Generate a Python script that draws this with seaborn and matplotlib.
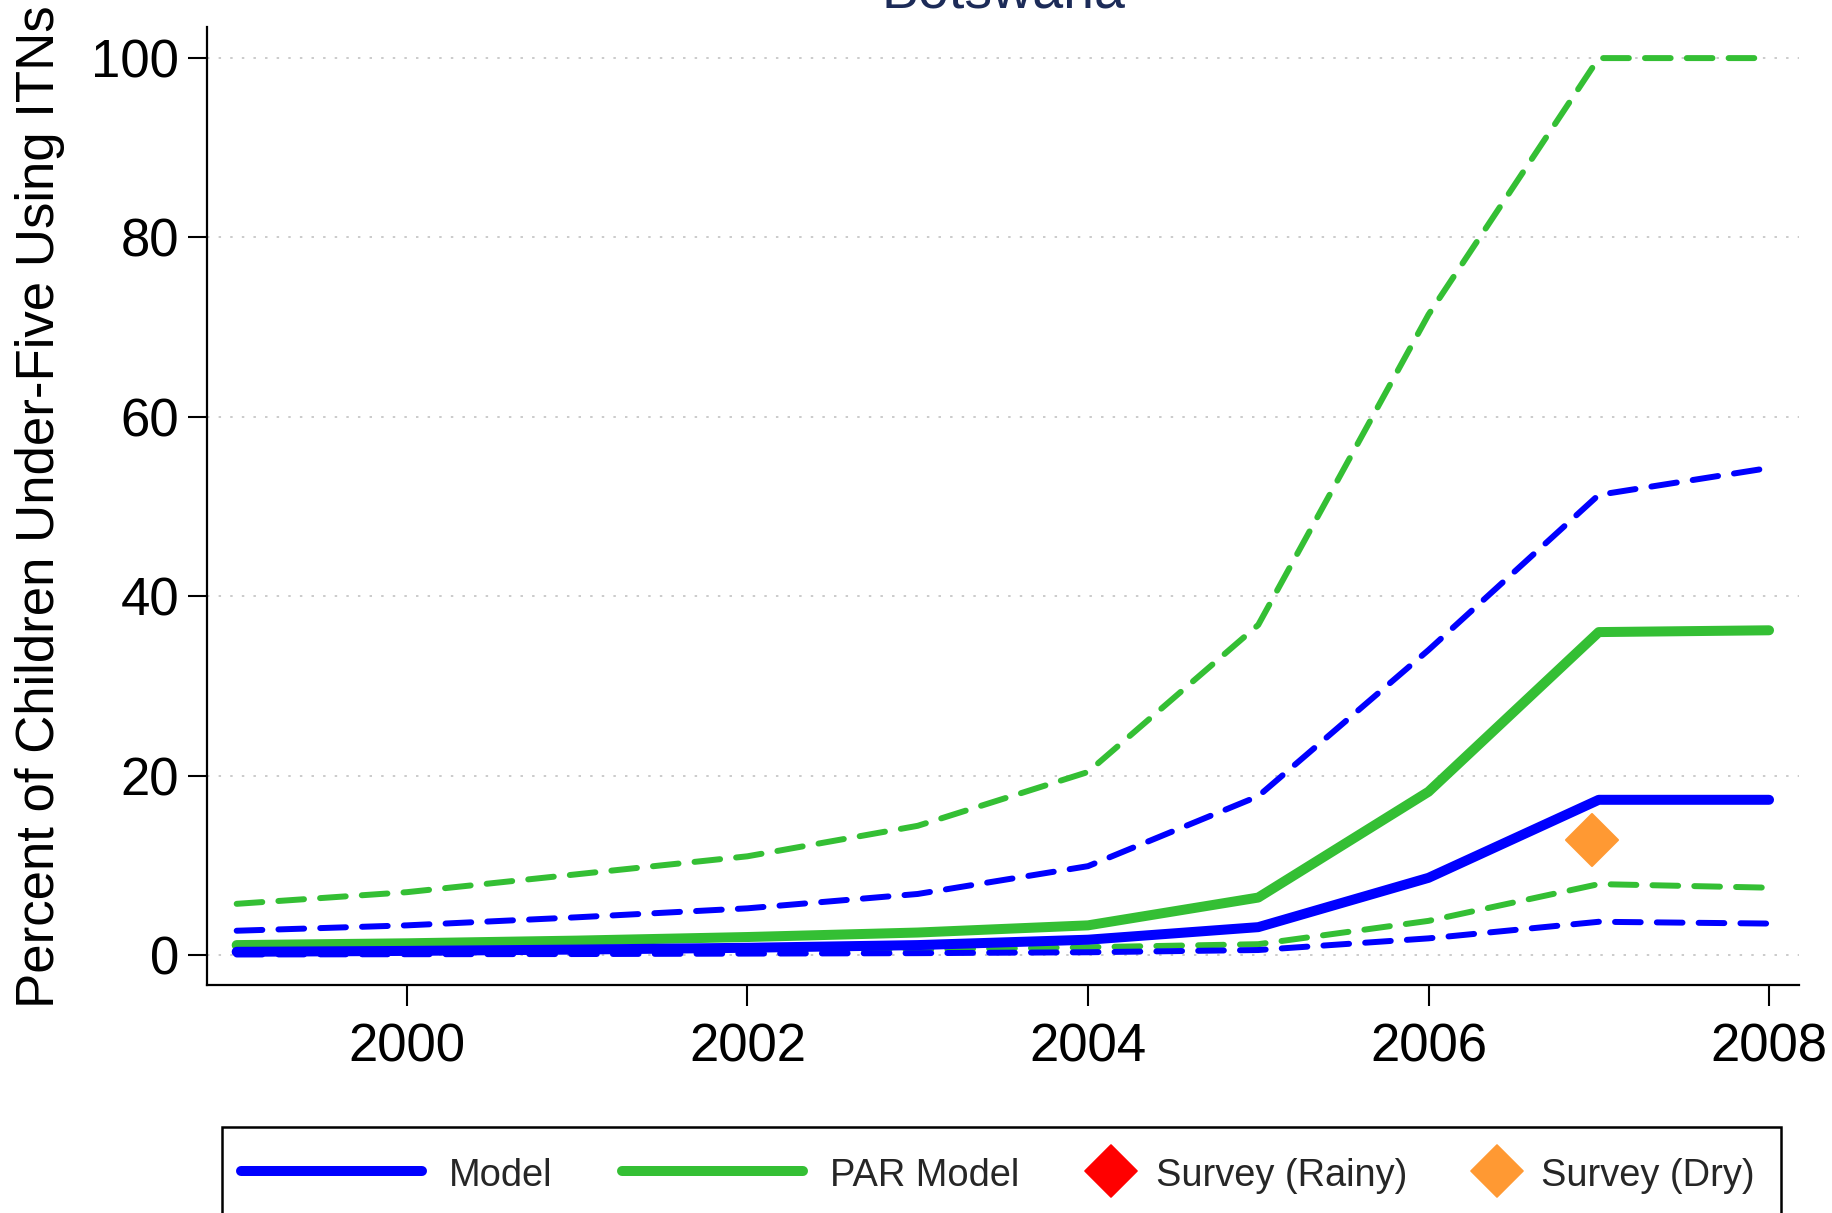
import numpy as np
import pandas as pd
import matplotlib
matplotlib.use("Agg")
import matplotlib.pyplot as plt
import seaborn as sns
from matplotlib.lines import Line2D
from matplotlib.patches import Rectangle
from matplotlib.markers import MarkerStyle

# ---------------- data ----------------
years = [1999, 2000, 2001, 2002, 2003, 2004, 2005, 2006, 2007, 2008]
model = [0.35, 0.45, 0.6, 0.8, 1.1, 1.7, 3.1, 8.6, 17.3, 17.3]
model_lo = [0.05, 0.08, 0.1, 0.15, 0.2, 0.3, 0.55, 1.85, 3.7, 3.5]
model_hi = [2.7, 3.3, 4.2, 5.2, 6.8, 9.9, 17.7, 34.0, 51.3, 54.3]
par_model = [1.1, 1.3, 1.6, 2.0, 2.5, 3.3, 6.4, 18.2, 36.0, 36.2]
par_lo = [0.3, 0.35, 0.4, 0.5, 0.6, 0.86, 1.2, 3.8, 7.9, 7.5]
par_hi = [5.7, 7.0, 9.0, 11.0, 14.4, 20.4, 36.8, 71.4, 100.0, 100.0]
survey_rainy_x = []
survey_rainy_y = []
survey_dry_x = [2006.96]
survey_dry_y = [12.8]

title = "Botswana"
ylabel = "Percent of Children Under-Five Using ITNs"
xticks = [2000, 2002, 2004, 2006, 2008]
yticks = [0, 20, 40, 60, 80, 100]
legend_labels = ["Model", "PAR Model", "Survey (Rainy)", "Survey (Dry)"]

BLUE = "#0000ff"
GREEN = "#34bf34"
RED = "#ff0000"
ORANGE = "#ff9933"

# ---------------- figure ----------------
sns.set_style("white")
plt.rcParams["font.family"] = ["Liberation Sans", "DejaVu Sans"]

W, H = 1833, 1213
fig = plt.figure(figsize=(W / 100, H / 100), dpi=100)
ax = fig.add_axes([206.7 / W, 1 - 985 / H, (1799 - 206.7) / W, (985 - 26.7) / H])

df = pd.DataFrame({"year": years, "model": model, "model_lo": model_lo,
                   "model_hi": model_hi, "par": par_model, "par_lo": par_lo,
                   "par_hi": par_hi})

solid_lw = 7.2
dash_lw = 4.3
dash_pat = (0, (4.3, 2.7))

for col, c in [("par_hi", GREEN), ("par_lo", GREEN), ("model_hi", BLUE), ("model_lo", BLUE)]:
    sns.lineplot(data=df, x="year", y=col, ax=ax, color=c, linewidth=dash_lw,
                 linestyle=dash_pat, dash_capstyle="round", dash_joinstyle="round",
                 errorbar=None, zorder=3)

sns.lineplot(data=df, x="year", y="par", ax=ax, color=GREEN, linewidth=solid_lw,
             solid_capstyle="round", solid_joinstyle="round", errorbar=None, zorder=4)
sns.lineplot(data=df, x="year", y="model", ax=ax, color=BLUE, linewidth=solid_lw,
             solid_capstyle="round", solid_joinstyle="round", errorbar=None, zorder=5)

dia = MarkerStyle("D", joinstyle="round")
if len(survey_rainy_x):
    ax.plot(survey_rainy_x, survey_rainy_y, linestyle="none", marker=dia, ms=26,
            color=RED, mec=RED, mew=1.5, zorder=6)
ax.plot(survey_dry_x, survey_dry_y, linestyle="none", marker=dia, ms=26,
        color=ORANGE, mec=ORANGE, mew=1.5, zorder=6)

ax.set_xlim(1998.824, 2008.176)
ax.set_ylim(-3.35, 103.5)
ax.set_xticks(xticks)
ax.set_yticks(yticks)
ax.set_xlabel("")
ax.set_ylabel(ylabel, fontsize=38, color="black")
ax.yaxis.set_label_coords(-0.089, 0.499)

ax.grid(False)
for y in yticks:
    ax.axhline(y, color="#bdbdbd", lw=1.1, linestyle=(0, (1.6, 6.0)), zorder=1)

for s in ["top", "right"]:
    ax.spines[s].set_visible(False)
for s in ["left", "bottom"]:
    ax.spines[s].set_linewidth(1.6)
    ax.spines[s].set_color("black")

ax.tick_params(axis="x", direction="out", length=15, width=1.5, pad=12,
               labelsize=38, colors="black", bottom=True)
ax.tick_params(axis="y", direction="out", length=14, width=1.5, pad=6,
               labelsize=38, colors="black", left=True)

fig.text(1003 / W, 1 - 8 / H, title, ha="center", va="baseline",
         fontsize=40, color="#1c2b58")

# ---------------- legend ----------------
fig.add_artist(Rectangle((222 / W, -0.1), (1781 - 222) / W, 0.1 + (1 - 1127 / H),
                         transform=fig.transFigure, fill=False, lw=1.8,
                         edgecolor="black", zorder=10))

leg_fs = 27.4
fs_px = leg_fs * 100 / 72
yc = 1 - 1175 / H
entries = [
    (Line2D([], [], color=BLUE, lw=solid_lw, solid_capstyle="round"), legend_labels[0], 241, 181, 27),
    (Line2D([], [], color=GREEN, lw=solid_lw, solid_capstyle="round"), legend_labels[1], 622, 181, 27),
    (Line2D([], [], color=RED, marker=dia, ms=26, mec=RED, mew=1.2, linestyle="none"), legend_labels[2], 1085, 52, 19),
    (Line2D([], [], color=ORANGE, marker=dia, ms=26, mec=ORANGE, mew=1.2, linestyle="none"), legend_labels[3], 1471, 52, 18),
]
for h, lab, x0, hl, tp in entries:
    fig.legend([h], [lab], loc="center left", bbox_to_anchor=(x0 / W, yc),
               frameon=False, fontsize=leg_fs, handlelength=hl / fs_px,
               handletextpad=tp / fs_px, borderpad=0, borderaxespad=0,
               numpoints=1, handleheight=1.0)

fig.savefig("out.png", dpi=100)
